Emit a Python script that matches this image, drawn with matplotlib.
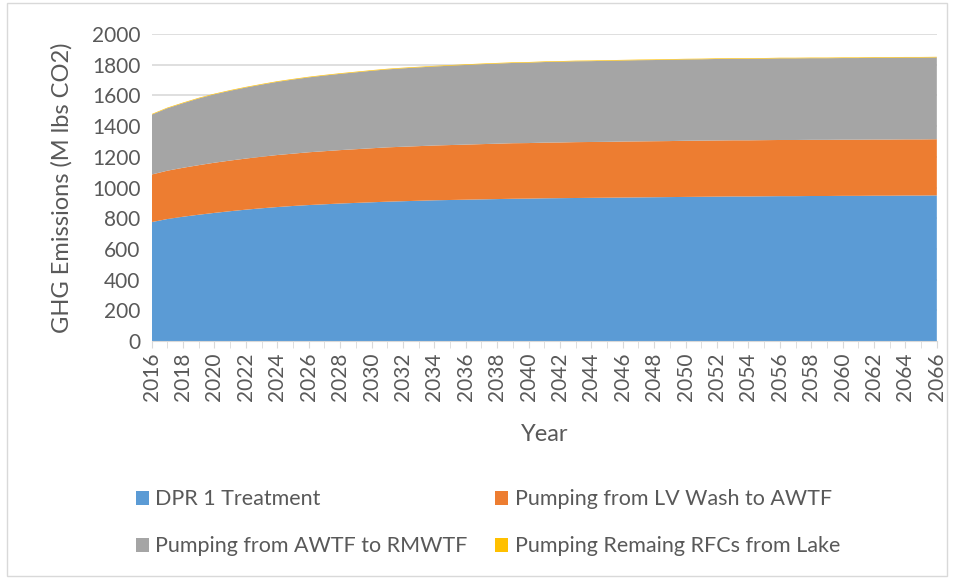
import matplotlib.pyplot as plt
from matplotlib.patches import Rectangle

# years on the x axis
years = list(range(2016, 2067))

# GHG emissions per source (M lbs CO2)
dpr1_treatment = [775, 795, 810, 823, 835, 846, 856, 865, 873, 880,
                  886, 891, 896, 900, 904, 908, 911, 914, 917, 919,
                  921, 923, 925, 927, 928, 930, 931, 932, 933, 934,
                  935, 936, 937, 938, 939, 940, 941, 942, 942, 943,
                  944, 944, 945, 945, 946, 946, 947, 947, 948, 948, 949]
lv_wash_to_awtf = [310, 315, 319, 323, 327, 330, 333, 336, 339, 341,
                   344, 346, 348, 350, 352, 354, 355, 356, 357, 358,
                   359, 360, 361, 362, 362, 363, 363, 364, 364, 364,
                   365, 365, 365, 365, 366, 366, 366, 366, 366, 366,
                   366, 366, 366, 366, 366, 366, 366, 366, 366, 366, 366]
awtf_to_rmwtf = [390, 407, 421, 435, 446, 455, 463, 470, 477, 483,
                 488, 493, 497, 501, 505, 508, 511, 513, 515, 517,
                 519, 521, 522, 523, 524, 525, 526, 527, 527, 528,
                 528, 529, 529, 530, 530, 530, 531, 531, 531, 531,
                 532, 532, 532, 532, 532, 532, 533, 533, 533, 533, 533]
rfcs_from_lake = [4, 4, 4, 4, 4, 4, 4, 4, 4, 4,
                  4, 4, 4, 4, 4, 4, 4, 4, 4, 4,
                  4, 4, 4, 4, 4, 4, 4, 4, 4, 4,
                  4, 4, 4, 4, 4, 4, 4, 4, 4, 4,
                  4, 4, 4, 4, 4, 4, 4, 4, 4, 4, 4]

labels = ["DPR 1 Treatment", "Pumping from LV Wash to AWTF",
          "Pumping from AWTF to RMWTF", "Pumping Remaing RFCs from Lake"]
colors = ["#5b9bd5", "#ed7d31", "#a5a5a5", "#ffc000"]

plt.rcParams['font.family'] = ['Lato', 'DejaVu Sans']
text_col = "#595959"

fig = plt.figure(figsize=(9.54, 5.78), dpi=100)
ax = fig.add_axes([0.159, 0.41, 0.823, 0.531])

polys = ax.stackplot(years, dpr1_treatment, lv_wash_to_awtf, awtf_to_rmwtf, rfcs_from_lake,
                     labels=labels, colors=colors, zorder=2)

ax.set_xlim(2016, 2066)
ax.set_ylim(0, 2000)
ax.set_yticks(range(0, 2001, 200))
ax.set_xticks(years[::2])
ax.set_xticks(years, minor=True)
ax.tick_params(axis='x', which='both', rotation=90, labelsize=15, colors=text_col,
               length=5, color="#d9d9d9")
ax.tick_params(axis='y', labelsize=15, colors=text_col, length=0, pad=8)
ax.grid(axis='y', color="#d9d9d9", linewidth=1.2, zorder=0)
for s in ['top', 'right', 'left']:
    ax.spines[s].set_visible(False)
ax.spines['bottom'].set_color("#d9d9d9")

ax.set_ylabel("GHG Emissions (M lbs CO2)", fontsize=17, color=text_col, labelpad=14)
ax.set_xlabel("Year", fontsize=17, color=text_col, labelpad=16)

# legend is filled row by row in the reference
order = [0, 2, 1, 3]
fig.legend([polys[i] for i in order], [labels[i] for i in order],
           loc='lower left', bbox_to_anchor=(0.122, 0.004), ncol=2, frameon=False,
           fontsize=15.5, labelcolor=text_col, handlelength=0.6, handleheight=0.6,
           handletextpad=0.3, columnspacing=1.3, labelspacing=1.25)

# light border around the whole chart area
fig.patches.append(Rectangle((0.007, 0.004), 0.986, 0.99, transform=fig.transFigure,
                             fill=False, edgecolor="#d9d9d9", linewidth=1))

fig.savefig("out.png", dpi=100)
